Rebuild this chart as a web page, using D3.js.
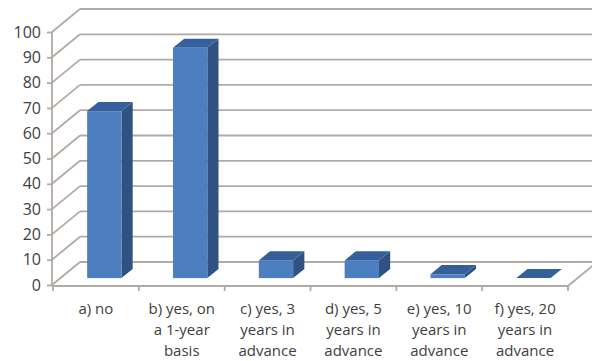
<!DOCTYPE html>
<html>
<head>
<meta charset="utf-8">
<script src="https://cdn.jsdelivr.net/npm/d3@7"></script>
<style>
  body { margin: 0; background: #fff; }
  text { font-family: "Open Sans", sans-serif; fill: #404040; }
</style>
</head>
<body>
<script>
const categories = ["a) no", "b) yes, on a 1-year basis", "c) yes, 3 years in advance",
    "d) yes, 5 years in advance", "e) yes, 10 years in advance", "f) yes, 20 years in advance"];
const labelLines = [
    ["a) no"],
    ["b) yes, on", "a 1-year", "basis"],
    ["c) yes, 3", "years in", "advance"],
    ["d) yes, 5", "years in", "advance"],
    ["e) yes, 10", "years in", "advance"],
    ["f) yes, 20", "years in", "advance"]
];
const values = [66, 91, 7, 7, 1.5, 0];
const yTicks = [0, 10, 20, 30, 40, 50, 60, 70, 80, 90, 100];

function main() {
    let svg = d3.select("body").append("svg")
        .attr("width", 592)
        .attr("height", 361);

    // depth vector of the 3d box
    let DX = 28, DY = -23;
    let grid = "#b3aaa6";
    let gw = 1.8;

    let x = d3.scaleBand().domain(categories).range([53, 568])
        .paddingInner(0.6).paddingOuter(0.3);
    let y = d3.scaleLinear().domain([0, 100]).range([285, 32]);

    // back wall gridlines
    svg.append("g").selectAll("line")
        .data(yTicks)
        .enter().append("line")
        .attr("x1", 52 + DX).attr("x2", 600)
        .attr("y1", d => y(d) + DY).attr("y2", d => y(d) + DY)
        .attr("stroke", grid).attr("stroke-width", gw);

    // side wall diagonals
    svg.append("g").selectAll("line")
        .data(yTicks)
        .enter().append("line")
        .attr("x1", 52).attr("x2", 52 + DX)
        .attr("y1", d => y(d)).attr("y2", d => y(d) + DY)
        .attr("stroke", grid).attr("stroke-width", gw);

    // floor right edge
    svg.append("line")
        .attr("x1", 568).attr("y1", y(0) + 1)
        .attr("x2", 568 + DX).attr("y2", y(0) + 1 + DY)
        .attr("stroke", grid).attr("stroke-width", gw);

    // bars (front at 0.3 depth, back at 0.7)
    let f0 = 0.3, f1 = 0.7;
    let bw = x.bandwidth();
    let bars = svg.append("g").selectAll("g")
        .data(categories)
        .enter().append("g");

    bars.each(function(c, i) {
        let g = d3.select(this);
        let x0 = x(c) + f0 * DX, x1 = x0 + bw;
        let yb = y(0) + f0 * DY, yt = y(values[i]) + f0 * DY;
        let ddx = (f1 - f0) * DX, ddy = (f1 - f0) * DY;
        // side
        g.append("path")
            .attr("d", `M${x1},${yb}L${x1 + ddx},${yb + ddy}L${x1 + ddx},${yt + ddy}L${x1},${yt}Z`)
            .attr("fill", "#2f5283");
        // front
        g.append("rect")
            .attr("x", x0).attr("y", yt)
            .attr("width", bw).attr("height", Math.max(0, yb - yt))
            .attr("fill", "#4d7ebf");
        // top
        g.append("path")
            .attr("d", `M${x0},${yt}L${x0 + ddx},${yt + ddy}L${x1 + ddx},${yt + ddy}L${x1},${yt}Z`)
            .attr("fill", "#36609c");
    });

    // y axis on the front edge
    let yAxis = d3.axisLeft(y).tickValues(yTicks).tickSize(5).tickPadding(6);
    let ya = svg.append("g")
        .attr("transform", "translate(52,0)")
        .style("font-size", "16px")
        .call(yAxis);
    ya.selectAll("line, path").attr("stroke", grid).attr("stroke-width", gw);
    ya.select(".domain").attr("d", `M0,${y(0)}V${y(100)}`);
    ya.selectAll("text").attr("fill", "#404040").style("font-family", "Open Sans");

    // x axis on the front floor edge
    let xAxis = d3.axisBottom(x).tickSize(0).tickFormat("");
    let xa = svg.append("g")
        .attr("transform", `translate(0,${y(0) + 1})`)
        .call(xAxis);
    xa.selectAll("path, line").attr("stroke", grid).attr("stroke-width", gw);
    xa.select(".domain").attr("d", "M52,0H568");

    // category boundary ticks
    let bounds = categories.map(c => x(c) - x.step() * x.paddingInner() / 2);
    bounds.push(568);
    svg.append("g").selectAll("line")
        .data(bounds)
        .enter().append("line")
        .attr("x1", d => d).attr("x2", d => d)
        .attr("y1", y(0) + 1).attr("y2", y(0) + 6)
        .attr("stroke", grid).attr("stroke-width", gw);

    // multi-line category labels
    let lab = svg.append("g").selectAll("text")
        .data(categories)
        .enter().append("text")
        .attr("text-anchor", "middle")
        .style("font-size", "15px");
    lab.each(function(c, i) {
        d3.select(this).selectAll("tspan")
            .data(labelLines[i])
            .enter().append("tspan")
            .attr("x", x(c) + bw / 2)
            .attr("y", (d, j) => 314 + j * 21)
            .text(d => d);
    });
}

main()
</script>
</body>
</html>
